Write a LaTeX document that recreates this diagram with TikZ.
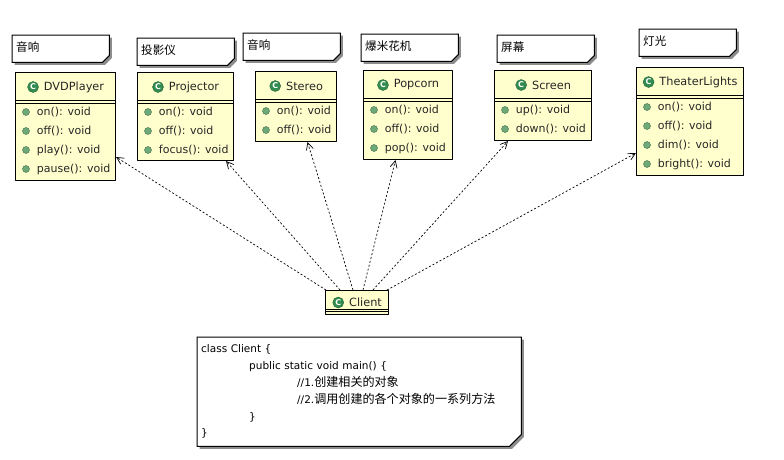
\documentclass[tikz,border=0pt]{standalone}
\usepackage{fontspec}
\setmainfont{DejaVu Sans}
\newfontfamily\cjk{Noto Sans CJK SC}[Scale=1.05]
\usetikzlibrary{positioning,backgrounds,arrows.meta}
\definecolor{clsfill}{RGB}{255,255,206}
\definecolor{icongreen}{RGB}{50,140,80}
\definecolor{dotgreen}{RGB}{110,170,120}
\tikzset{
  cls/.style={draw,line width=1pt,fill=clsfill,anchor=north west,inner sep=0},
  sep/.style={line width=1pt},
  cname/.style={inner sep=0,font=\fontsize{11.3}{13}\selectfont,text=black!85},
  icon/.style={circle,fill=icongreen,draw=icongreen!70!black,minimum size=11pt,inner sep=0,
    text=white,font=\fontsize{8}{8}\selectfont\bfseries},
  dot/.style={circle,fill=dotgreen,draw=dotgreen!60!black,line width=.4pt,minimum size=7pt,inner sep=0},
  meth/.style={inner sep=0,font=\fontsize{11}{13}\selectfont,text=black!85},
  note/.style={anchor=north west,align=left,inner xsep=4pt,inner ysep=0pt,
    text height=16pt,text depth=11pt,text width=89pt,font=\cjk\fontsize{11}{13}\selectfont},
  notebox/.style={line width=1pt,fill=white},
  noteshadow/.style={fill=black!45},
  dep/.style={line width=.7pt,dash pattern=on 2pt off 2pt,-{Straight Barb[length=7pt,width=7pt]}}
}
\begin{document}
\begin{tikzpicture}[x=1pt,y=-1pt,line join=round]
\useasboundingbox (0,0) rectangle (784,459);
% notes
\path (12,35) node[note](n1){音响}
      (137,38) node[note](n2){投影仪}
      (243,33) node[note](n3){音响}
      (361,34) node[note](n4){爆米花机}
      (497,35) node[note](n5){屏幕}
      (639,29) node[note](n6){灯光};
% DVDPlayer
\path (15,72) node[cls,minimum width=100pt,minimum height=108pt](dvd){};
\path ([xshift=8.5pt,yshift=-15pt]dvd.north) node[cname](dvdn){DVDPlayer};
\node[icon,left=5pt of dvdn](dvdi){C};
\draw[sep] ([yshift=-28pt]dvd.north west)--([yshift=-28pt]dvd.north east)
           ([yshift=-31pt]dvd.north west)--([yshift=-31pt]dvd.north east);
\foreach \m [count=\i] in {on,off,play,pause}
  \path ([xshift=11pt,yshift=-21pt-19pt*\i]dvd.north west) node[dot](dvd\i){}
        node[meth,right=7pt of dvd\i](dvdm\i){\m(): void};
% Projector
\path (137,72) node[cls,minimum width=96pt,minimum height=88pt](proj){};
\path ([xshift=8.5pt,yshift=-15pt]proj.north) node[cname](projn){Projector};
\node[icon,left=5pt of projn](proji){C};
\draw[sep] ([yshift=-28pt]proj.north west)--([yshift=-28pt]proj.north east)
           ([yshift=-31pt]proj.north west)--([yshift=-31pt]proj.north east);
\foreach \m [count=\i] in {on,off,focus}
  \path ([xshift=11pt,yshift=-21pt-19pt*\i]proj.north west) node[dot](proj\i){}
        node[meth,right=7pt of proj\i](projm\i){\m(): void};
% Stereo
\path (255,71) node[cls,minimum width=81pt,minimum height=70pt](ster){};
\path ([xshift=8.5pt,yshift=-15pt]ster.north) node[cname](stern){Stereo};
\node[icon,left=5pt of stern](steri){C};
\draw[sep] ([yshift=-28pt]ster.north west)--([yshift=-28pt]ster.north east)
           ([yshift=-31pt]ster.north west)--([yshift=-31pt]ster.north east);
\foreach \m [count=\i] in {on,off}
  \path ([xshift=11pt,yshift=-21pt-19pt*\i]ster.north west) node[dot](ster\i){}
        node[meth,right=7pt of ster\i](sterm\i){\m(): void};
% Popcorn
\path (363,70) node[cls,minimum width=89pt,minimum height=89pt](pop){};
\path ([xshift=8.5pt,yshift=-15pt]pop.north) node[cname](popn){Popcorn};
\node[icon,left=5pt of popn](popi){C};
\draw[sep] ([yshift=-28pt]pop.north west)--([yshift=-28pt]pop.north east)
           ([yshift=-31pt]pop.north west)--([yshift=-31pt]pop.north east);
\foreach \m [count=\i] in {on,off,pop}
  \path ([xshift=11pt,yshift=-21pt-19pt*\i]pop.north west) node[dot](pop\i){}
        node[meth,right=7pt of pop\i](popm\i){\m(): void};
% Screen
\path (494,70) node[cls,minimum width=97pt,minimum height=70pt](scr){};
\path ([xshift=8.5pt,yshift=-15pt]scr.north) node[cname](scrn){Screen};
\node[icon,left=5pt of scrn](scri){C};
\draw[sep] ([yshift=-28pt]scr.north west)--([yshift=-28pt]scr.north east)
           ([yshift=-31pt]scr.north west)--([yshift=-31pt]scr.north east);
\foreach \m [count=\i] in {up,down}
  \path ([xshift=11pt,yshift=-21pt-19pt*\i]scr.north west) node[dot](scr\i){}
        node[meth,right=7pt of scr\i](scrm\i){\m(): void};
% TheaterLights
\path (636,67) node[cls,minimum width=107pt,minimum height=108pt](tl){};
\path ([xshift=8.5pt,yshift=-15pt]tl.north) node[cname](tln){TheaterLights};
\node[icon,left=5pt of tln](tli){C};
\draw[sep] ([yshift=-28pt]tl.north west)--([yshift=-28pt]tl.north east)
           ([yshift=-31pt]tl.north west)--([yshift=-31pt]tl.north east);
\foreach \m [count=\i] in {on,off,dim,bright}
  \path ([xshift=11pt,yshift=-21pt-19pt*\i]tl.north west) node[dot](tl\i){}
        node[meth,right=7pt of tl\i](tlm\i){\m(): void};
% Client
\path (325,290) node[cls,minimum width=63pt,minimum height=24pt](cli){};
\path ([xshift=8.5pt,yshift=-12.5pt]cli.north) node[cname](clin){Client};
\node[icon,left=5pt of clin](clii){C};
\draw[sep] ([yshift=-19pt]cli.north west)--([yshift=-19pt]cli.north east)
           ([yshift=-21.5pt]cli.north west)--([yshift=-21.5pt]cli.north east);
% code note
\path (197,337) node[note,minimum width=324pt,minimum height=109pt,
  text width=316pt,text height=,text depth=,inner ysep=4pt,
  font=\fontsize{10.5}{16.8}\selectfont](code){%
  class Client \{\\
  \hspace*{48pt}public static void main() \{\\
  \hspace*{96pt}//1.{\cjk\fontsize{11.5}{16.8}\selectfont 创建相关的对象}\\
  \hspace*{96pt}//2.{\cjk\fontsize{11.5}{16.8}\selectfont 调用创建的各个对象的一系列方法}\\
  \hspace*{48pt}\}\\
  \}};
% note outlines with cut corner and shadow
\begin{scope}[on background layer]
\foreach \n/\c in {n1/7pt,n2/7pt,n3/7pt,n4/7pt,n5/7pt,n6/7pt,code/12pt}{
  \fill[noteshadow] ([shift={(2.5pt,-2.5pt)}]\n.north west) -- ([shift={(2.5pt,-2.5pt)}]\n.north east)
    -- ([shift={(2.5pt,\c-2.5pt)}]\n.south east) -- ([shift={(-\c+2.5pt,-2.5pt)}]\n.south east)
    -- ([shift={(2.5pt,-2.5pt)}]\n.south west) -- cycle;
  \draw[notebox] (\n.north west) -- (\n.north east) -- ([yshift=\c]\n.south east)
    -- ([xshift=-\c]\n.south east) -- (\n.south west) -- cycle;
}
\end{scope}
% dependencies
\coordinate (s1) at ([xshift=1pt]cli.north west);
\coordinate (s2) at ([xshift=15pt]cli.north west);
\coordinate (s3) at ([xshift=28pt]cli.north west);
\coordinate (s4) at ([xshift=38pt]cli.north west);
\coordinate (s5) at ([xshift=48pt]cli.north west);
\coordinate (s6) at ([xshift=62pt]cli.north west);
\draw[dep] (s1) -- ([yshift=24pt]dvd.south east);
\draw[dep] (s2) -- ([xshift=-8pt]proj.south east);
\draw[dep] (s3) -- ([xshift=11.5pt]ster.south);
\draw[dep] (s4) -- ([xshift=-12.5pt]pop.south);
\draw[dep] (s5) -- ([xshift=14pt]scr.south west);
\draw[dep] (s6) -- ([yshift=23pt]tl.south west);
\end{tikzpicture}
\end{document}
